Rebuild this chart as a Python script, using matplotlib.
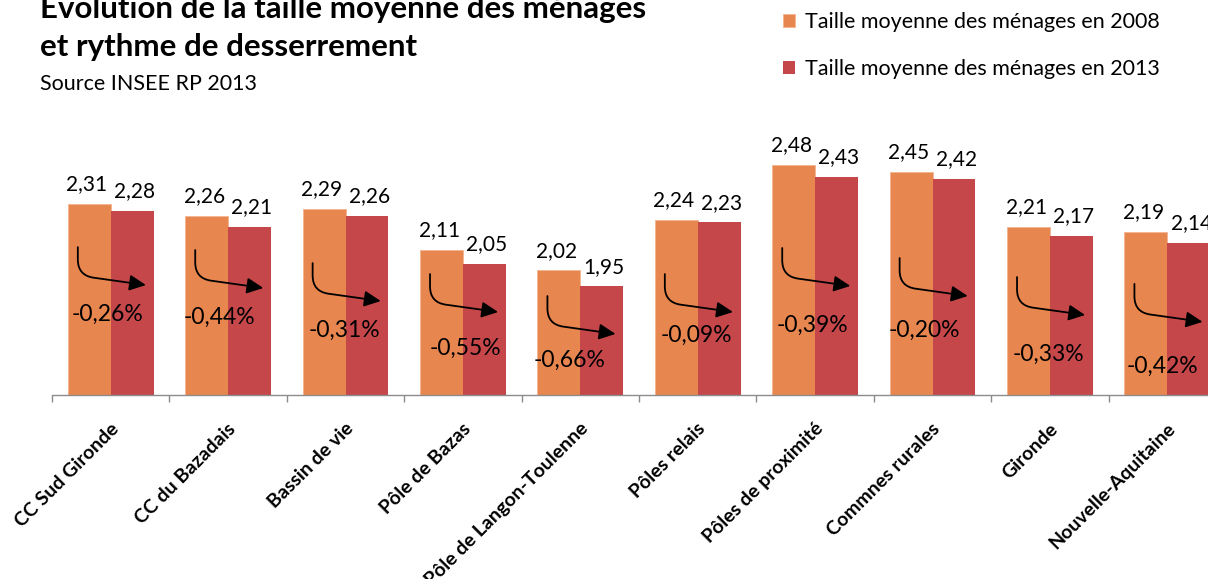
import matplotlib
matplotlib.use("Agg")
import matplotlib.pyplot as plt
from matplotlib.patches import FancyArrowPatch
from matplotlib.transforms import ScaledTranslation
import numpy as np

# ---------------- data ----------------
categories = ["CC Sud Gironde", "CC du Bazadais", "Bassin de vie", "Pôle de Bazas",
              "Pôle de Langon-Toulenne", "Pôles relais", "Pôles de proximité",
              "Commnes rurales", "Gironde", "Nouvelle-Aquitaine"]
taille_2008 = [2.31, 2.26, 2.29, 2.11, 2.02, 2.24, 2.48, 2.45, 2.21, 2.19]
taille_2013 = [2.28, 2.21, 2.26, 2.05, 1.95, 2.23, 2.43, 2.42, 2.17, 2.14]
rythme = [-0.26, -0.44, -0.31, -0.55, -0.66, -0.09, -0.39, -0.20, -0.33, -0.42]
series_labels = ["Taille moyenne des ménages en 2008", "Taille moyenne des ménages en 2013"]

# ---------------- layout (annotation placement) ----------------
arrow_start_y = [2.122, 2.109, 2.052, 2.004, 1.908, 2.004, 2.118, 2.074, 1.991, 1.961]
pct_label_y = [1.829, 1.816, 1.759, 1.681, 1.628, 1.737, 1.781, 1.759, 1.654, 1.602]
pct_label_dx = [-0.03, -0.07, -0.01, 0.02, -0.09, -0.01, -0.02, -0.07, -0.01, -0.04]

W, H = 1208, 579
DPI = 100
C2008 = "#E8864F"
C2013 = "#C5474A"
FONT = "Lato"

plt.rcParams["font.family"] = [FONT, "DejaVu Sans"]

fig = plt.figure(figsize=(W / DPI, H / DPI), dpi=DPI)
fig.patch.set_facecolor("white")

# axes geometry in pixels
left_px, base_px, top_px = 52, 395, 110
cat_px = 117.4
ymin = 1.475
px_per_unit = 228.6
n = len(categories)
ax = fig.add_axes([left_px / W, (H - base_px) / H, cat_px * n / W, (base_px - top_px) / H])
ax.set_xlim(-0.5, n - 0.5)
ax.set_ylim(ymin, ymin + (base_px - top_px) / px_per_unit)

x = np.arange(n)
bw = 0.366
off = 0.183
b1 = ax.bar(x - off, taille_2008, bw, color=C2008, label=series_labels[0],
            edgecolor="#F2B48F", linewidth=0.6)
b2 = ax.bar(x + off, taille_2013, bw, color=C2013, label=series_labels[1], linewidth=0)

for xi, v in zip(x, taille_2008):
    ax.annotate(f"{v:.2f}".replace(".", ","), (xi - off - 0.02, v), xytext=(0, 7),
                textcoords="offset points", ha="center", va="bottom", fontsize=15, color="black")
for xi, v in zip(x, taille_2013):
    ax.annotate(f"{v:.2f}".replace(".", ","), (xi + off + 0.02, v), xytext=(0, 7),
                textcoords="offset points", ha="center", va="bottom", fontsize=15, color="black")

for i in range(n):
    y0 = arrow_start_y[i]
    arr = FancyArrowPatch((x[i] - 0.28, y0), (x[i] + 0.30, y0 - 0.166),
                          connectionstyle="angle,angleA=90,angleB=-8,rad=16",
                          arrowstyle="-|>,head_length=0.5,head_width=0.24",
                          mutation_scale=20, color="black", linewidth=1.3,
                          shrinkA=0, shrinkB=0)
    ax.add_patch(arr)
    ax.text(x[i] + pct_label_dx[i], pct_label_y[i], f"{rythme[i]:.2f}%".replace(".", ","),
            ha="center", va="center", fontsize=16.5, color="black")

# axes styling
for s in ["top", "right", "left"]:
    ax.spines[s].set_visible(False)
ax.spines["bottom"].set_color("#8C8C8C")
ax.spines["bottom"].set_linewidth(1.0)
ax.set_yticks([])
ax.set_xticks(x)
ax.set_xticklabels(categories, rotation=45, ha="right", va="center",
                   rotation_mode="anchor", fontsize=14, fontweight="bold")
ax.tick_params(axis="x", which="major", length=0, pad=0)
ax.set_xticks(np.arange(n + 1) - 0.5, minor=True)
ax.tick_params(axis="x", which="minor", length=5, width=1.0, color="#8C8C8C", direction="out")
shift = ScaledTranslation(5 / DPI, -31 / DPI, fig.dpi_scale_trans)
for lab in ax.get_xticklabels():
    lab.set_transform(lab.get_transform() + shift)

# titles
fig.text(40 / W, 1 - 18 / H, "Evolution de la taille moyenne des ménages", fontsize=22.5,
         fontweight="bold", ha="left", va="baseline")
fig.text(40 / W, 1 - 56 / H, "et rythme de desserrement", fontsize=22.5,
         fontweight="bold", ha="left", va="baseline")
fig.text(40 / W, 1 - 90 / H, "Source INSEE RP 2013", fontsize=15.5, ha="left", va="baseline")

# legend
fig.legend(handles=[b1, b2], labels=series_labels, loc="upper left",
           bbox_to_anchor=(783 / W, 1 - 12 / H), frameon=False, fontsize=15.5,
           handlelength=0.55, handleheight=0.55, handletextpad=0.45, labelspacing=1.25,
           borderpad=0, borderaxespad=0)

fig.savefig("out.png", dpi=DPI)
